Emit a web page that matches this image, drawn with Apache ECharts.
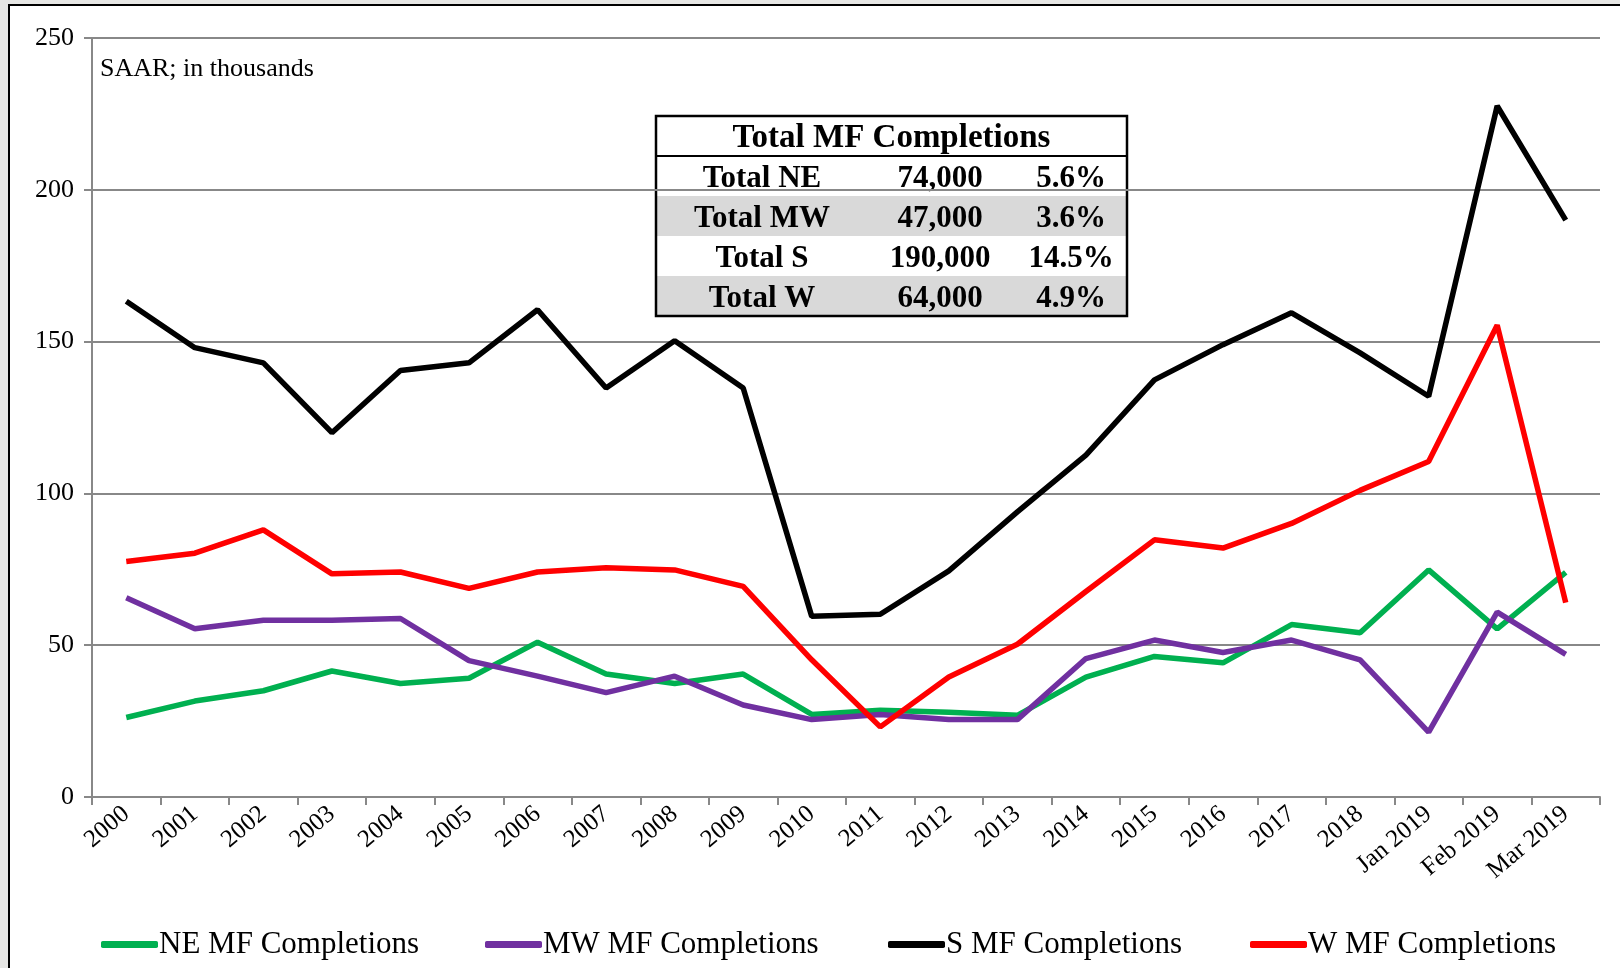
<!DOCTYPE html>
<html>
<head>
<meta charset="utf-8">
<script src="https://cdn.jsdelivr.net/npm/echarts@6/dist/echarts.min.js"></script>
<style>
  html, body { margin: 0; padding: 0; background: #e6e6e4; }
  #chart { width: 1620px; height: 968px; }
</style>
</head>
<body>
<div id="chart"></div>
<script>
// categories + series (SAAR, thousands)
var categories = ['2000', '2001', '2002', '2003', '2004', '2005', '2006', '2007', '2008', '2009',
  '2010', '2011', '2012', '2013', '2014', '2015', '2016', '2017', '2018', 'Jan 2019', 'Feb 2019', 'Mar 2019'];
var neData = [26.2, 31.6, 35, 41.5, 37.4, 39.1, 51, 40.5, 37.4, 40.5, 27.2, 28.6, 27.9, 26.9, 39.5, 46.3, 44.2, 56.8, 54.1, 74.8, 55.4, 74];
var mwData = [65.6, 55.4, 58.2, 58.2, 58.8, 44.9, 39.8, 34.4, 39.8, 30.3, 25.5, 27.2, 25.5, 25.5, 45.6, 51.7, 47.6, 51.7, 45.2, 21.4, 60.9, 47];
var sData = [163.3, 148, 143, 120, 140.5, 143, 160.5, 134.7, 150.3, 134.7, 59.5, 60.2, 74.5, 93.9, 112.6, 137.4, 149, 159.5, 146.3, 132, 227.6, 190];
var wData = [77.6, 80.3, 88, 73.5, 74.1, 68.7, 74.1, 75.5, 74.8, 69.4, 45.2, 23.1, 39.5, 50.3, 67.7, 84.7, 82, 90.1, 101, 110.5, 155.4, 64];

// summary table
var tableTitle = 'Total MF Completions';
var tableLabels = ['Total NE', 'Total MW', 'Total S', 'Total W'];
var tableTotals = ['74,000', '47,000', '190,000', '64,000'];
var tableShares = ['5.6%', '3.6%', '14.5%', '4.9%'];

var FONT = '"Liberation Serif", "Times New Roman", serif';

// 基于准备好的dom，初始化echarts实例
var myChart = echarts.init(document.getElementById('chart'));

// table graphics
var tX = 656, tY = 116, tW = 471, rowH = 40;
var graphics = [
  { type: 'rect', z: -10, shape: { x: 9, y: 5, width: 1640, height: 1000 },
    style: { fill: '#fff', stroke: '#000', lineWidth: 2 } },
  { type: 'text', left: 100, top: 56, style: { text: 'SAAR; in thousands', font: '26px ' + FONT, fill: '#000' } }
];
var tableChildren = [
  { type: 'rect', shape: { x: 0, y: 0, width: tW, height: rowH * 5 }, style: { fill: '#fff' } }
];
for (var i = 0; i < tableLabels.length; i++) {
  var ry = rowH * (i + 1);
  var cy = ry + rowH / 2 + 3;
  if (i % 2 === 1) {
    tableChildren.push({ type: 'rect', shape: { x: 0, y: ry, width: tW, height: rowH }, style: { fill: '#d9d9d9' } });
  }
  tableChildren.push({ type: 'text', style: { text: tableLabels[i], x: 106, y: cy, align: 'center', verticalAlign: 'middle', font: 'bold 31px ' + FONT, fill: '#000' } });
  tableChildren.push({ type: 'text', style: { text: tableTotals[i], x: 284, y: cy, align: 'center', verticalAlign: 'middle', font: 'bold 31px ' + FONT, fill: '#000' } });
  tableChildren.push({ type: 'text', style: { text: tableShares[i], x: 415, y: cy, align: 'center', verticalAlign: 'middle', font: 'bold 31px ' + FONT, fill: '#000' } });
}
tableChildren.push({ type: 'text', style: { text: tableTitle, x: tW / 2, y: rowH / 2 + 2, align: 'center', verticalAlign: 'middle', font: 'bold 33px ' + FONT, fill: '#000' } });
tableChildren.push({ type: 'line', shape: { x1: 0, y1: rowH, x2: tW, y2: rowH }, style: { stroke: '#000', lineWidth: 2 } });
tableChildren.push({ type: 'rect', shape: { x: 0, y: 0, width: tW, height: rowH * 5 }, style: { fill: null, stroke: '#000', lineWidth: 2.5 } });
graphics.push({ type: 'group', x: tX, y: tY, z: 100, children: tableChildren });

function legendAt(name, left) {
  return {
    data: [name], left: left, top: 924,
    icon: 'roundRect', itemWidth: 57, itemHeight: 7, itemGap: 0,
    textStyle: { fontFamily: FONT, fontSize: 31, color: '#000', padding: [0, 0, 0, -4] }
  };
}

myChart.setOption({
  animation: false,
  backgroundColor: 'transparent',
  graphic: graphics,
  legend: [
    legendAt('NE MF Completions', 96),
    legendAt('MW MF Completions', 480),
    legendAt('S MF Completions', 883),
    legendAt('W MF Completions', 1245)
  ],
  grid: { left: 92, right: 20, top: 38, bottom: 171 },
  xAxis: {
    type: 'category',
    data: categories,
    boundaryGap: true,
    axisLine: { lineStyle: { color: '#888', width: 2 } },
    axisTick: { show: true, length: 8, lineStyle: { color: '#888', width: 2 } },
    axisLabel: { rotate: 40, fontFamily: FONT, fontSize: 25, color: '#000', margin: 14, interval: 0 }
  },
  yAxis: {
    type: 'value',
    min: 0, max: 250, interval: 50,
    axisLine: { show: true, lineStyle: { color: '#888', width: 2 } },
    axisTick: { show: true, length: 8, lineStyle: { color: '#888', width: 2 } },
    splitLine: { lineStyle: { color: '#888', width: 2 } },
    axisLabel: { fontFamily: FONT, fontSize: 26, color: '#000', margin: 18 }
  },
  series: [
    { name: 'NE MF Completions', type: 'line', data: neData, symbol: 'none', lineStyle: { width: 5.5, color: '#00b050' }, itemStyle: { color: '#00b050' } },
    { name: 'MW MF Completions', type: 'line', data: mwData, symbol: 'none', lineStyle: { width: 5.5, color: '#7030a0' }, itemStyle: { color: '#7030a0' } },
    { name: 'S MF Completions', type: 'line', data: sData, symbol: 'none', lineStyle: { width: 5.5, color: '#000' }, itemStyle: { color: '#000' } },
    { name: 'W MF Completions', type: 'line', data: wData, symbol: 'none', lineStyle: { width: 5.5, color: '#ff0000' }, itemStyle: { color: '#ff0000' } }
  ]
});
</script>
</body>
</html>
